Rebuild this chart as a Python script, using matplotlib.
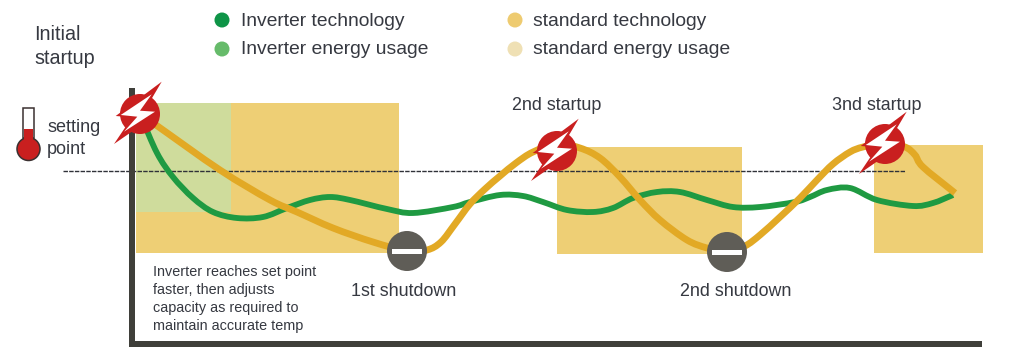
import numpy as np
import matplotlib
matplotlib.use('Agg')
import matplotlib.pyplot as plt
from matplotlib.patches import Circle, Rectangle, Polygon, PathPatch
from matplotlib.path import Path

plt.rcParams['font.family'] = ['Liberation Sans', 'DejaVu Sans']

# everything in pixels
std_x = [140, 156, 220, 270, 297, 333, 373, 407, 427, 441, 455, 470, 485, 500, 516, 533,
         557, 580, 600, 620, 640, 660, 687, 707, 727, 745, 760, 780, 800, 817, 833, 850,
         863, 885, 905, 915, 923, 955]
std_y = [114, 125, 170, 200, 212, 228, 242, 251, 250, 242, 224, 204, 189, 176, 163, 152,
         144, 148, 158, 177, 200, 220, 240, 248, 252, 246, 235, 217, 198, 180, 164, 152,
         147, 143, 147, 155, 167, 193]
inv_x = [140, 157, 173, 193, 213, 237, 263, 287, 310, 330, 350, 387, 413, 453, 470, 500,
         523, 543, 567, 593, 613, 633, 657, 680, 707, 733, 760, 795, 810, 827, 850, 877,
         913, 933, 953]
inv_y = [114, 153, 177, 198, 212, 218, 217, 208, 200, 197, 200, 209, 213, 207, 202, 195,
         196, 202, 210, 212, 208, 198, 192, 192, 200, 207, 207, 202, 197, 190, 188, 200,
         206, 203, 195]

energy_rects = [(136, 103, 263, 150), (557, 147, 185, 107), (874, 145, 109, 108)]
inv_rect = (136, 103, 95, 109)
startups = [(140, 114), (557, 151), (885, 144)]
shutdowns = [(407, 251), (727, 252)]
bolt_x = [21.7, -24.3, -8, -26, 19.3, 4]
bolt_y = [-32.3, 2, 3.3, 30, -1.3, -2.3]
flash_x = [11.7, -19.3, -2.7, -16, 15, 0]
flash_y = [-19.7, 1, 2.7, 17.7, -2.3, -3.3]

ink = '#363941'


def smooth_path(x, y):
    # bezier through the read points, so the wide lines have no corners
    p = np.c_[x, y].astype(float)
    g = np.gradient(p, axis=0)
    verts = [p[0]]
    codes = [Path.MOVETO]
    for i in range(len(p) - 1):
        verts += [p[i] + g[i] / 3, p[i + 1] - g[i + 1] / 3, p[i + 1]]
        codes += [Path.CURVE4] * 3
    return Path(verts, codes)


fig = plt.figure(figsize=(10.24, 3.64), dpi=100)
ax = fig.add_axes([0, 0, 1, 1])
ax.set_xlim(0, 1024)
ax.set_ylim(364, 0)
ax.axis('off')

for r in energy_rects:
    ax.add_patch(Rectangle(r[:2], r[2], r[3], fc='#eecf75', ec='none', zorder=1))
ax.add_patch(Rectangle(inv_rect[:2], inv_rect[2], inv_rect[3], fc='#cfdc9c', ec='none', zorder=2))

ax.plot([63, 905], [171, 171], color='#2f3138', lw=1.0, dashes=(3.2, 0.9), zorder=3)
ax.add_patch(PathPatch(smooth_path(inv_x, inv_y), fc='none', ec='#1f9a42', lw=4.2, zorder=4))
ax.add_patch(PathPatch(smooth_path(std_x, std_y), fc='none', ec='#e2a925', lw=4.9, zorder=5))

# axes of the sketch
ax.add_patch(Rectangle((129, 88), 6, 259, fc='#3f3f3a', ec='none', zorder=6))
ax.add_patch(Rectangle((129, 340.5), 853, 6.5, fc='#3f3f3a', ec='none', zorder=6))

for cx, cy in startups:
    ax.add_patch(Circle((cx, cy), 20, fc='#c91f1f', ec='none', zorder=7))
    ax.add_patch(Polygon(np.c_[cx + np.array(bolt_x), cy + np.array(bolt_y)],
                         fc='#c91f1f', ec='none', zorder=8))
    ax.add_patch(Polygon(np.c_[cx + np.array(flash_x), cy + np.array(flash_y)],
                         fc='white', ec='none', zorder=9))
for cx, cy in shutdowns:
    ax.add_patch(Circle((cx, cy), 20, fc='#5f5d57', ec='none', zorder=7))
    ax.add_patch(Rectangle((cx - 15, cy - 2), 30, 4.5, fc='white', ec='none', zorder=8))

# thermometer
ax.add_patch(Rectangle((23, 108), 11, 30, fc='white', ec='#3a3030', lw=1.1, zorder=3))
ax.add_patch(Circle((28.5, 149), 11.5, fc='#c91f1f', ec='#3a3030', lw=1.1, zorder=3))
ax.add_patch(Rectangle((23.6, 129), 9.8, 13, fc='#c91f1f', ec='none', zorder=4))

# legend
ax.add_patch(Circle((222, 20), 7.5, fc='#0e9447', ec='none'))
ax.add_patch(Circle((222, 49), 7.5, fc='#66bb6a', ec='none'))
ax.add_patch(Circle((515, 20), 7.5, fc='#eecb70', ec='none'))
ax.add_patch(Circle((515, 49), 7.5, fc='#efe0b4', ec='none'))
for x, y, s in [(241, 21, 'Inverter technology'), (241, 50, 'Inverter energy usage'),
                (533, 21, 'standard technology'), (533, 50, 'standard energy usage')]:
    ax.text(x, y, s, fontsize=13.85, color=ink, va='center', ha='left')

ax.text(34, 34, 'Initial', fontsize=14.2, color=ink, va='center')
ax.text(34, 59, 'startup', fontsize=14.2, color=ink, va='center')
ax.text(47, 127, 'setting', fontsize=13, color=ink, va='center')
ax.text(47, 149, 'point', fontsize=13, color=ink, va='center')
ax.text(557, 106, '2nd startup', fontsize=12.9, color=ink, va='center', ha='center')
ax.text(877, 106, '3nd startup', fontsize=12.9, color=ink, va='center', ha='center')
ax.text(403.5, 292, '1st shutdown', fontsize=12.9, color=ink, va='center', ha='center')
ax.text(736, 292, '2nd shutdown', fontsize=12.9, color=ink, va='center', ha='center')
for y, s in [(272, 'Inverter reaches set point'), (290, 'faster, then adjusts'),
             (308, 'capacity as required to'), (326, 'maintain accurate temp')]:
    ax.text(153, y, s, fontsize=10.35, color=ink, va='center')

fig.savefig('out.png', dpi=100)
